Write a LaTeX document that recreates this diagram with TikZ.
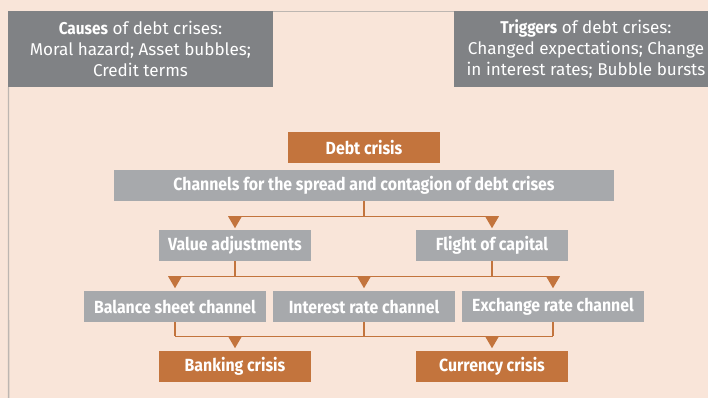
\documentclass[tikz,border=0pt]{standalone}
\usepackage{fontspec}
\setmainfont{Fira Sans}[BoldFeatures={FakeStretch=0.9}]
\definecolor{bgc}{HTML}{F9E5D9}
\definecolor{darkg}{HTML}{808285}
\definecolor{lightg}{HTML}{A7A9AC}
\definecolor{orng}{HTML}{C3743D}
\definecolor{rule}{HTML}{BDB6B1}
\tikzset{
  info/.style={fill=darkg, text=white, inner sep=0pt, minimum height=76pt, align=center,
    font=\fontsize{17.1}{21}\selectfont},
  greybox/.style={fill=lightg, text=white, inner sep=0pt, minimum height=31pt,
    font=\bfseries\fontsize{17.6}{20}\selectfont},
  orangebox/.style={greybox, fill=orng},
  conn/.style={draw=orng, line width=1.3pt},
  frameline/.style={draw=rule, line width=1.3pt},
  tri/.pic={\fill[orng] (-7,0) -- (7,0) -- (0,12) -- cycle;}
}
\begin{document}
\begin{tikzpicture}[x=1pt,y=-1pt]
\useasboundingbox (0,0) rectangle (708,398);
\clip (0,0) rectangle (708,398);
\fill[bgc] (0,0) rectangle (708,398);
% top boxes
\node[info, minimum width=265pt] (causes) at (140.5,49) {\textbf{Causes} of debt crises:\\Moral hazard; Asset bubbles;\\Credit terms};
\node[info, minimum width=264pt] (triggers) at (586,49) {\textbf{Triggers} of debt crises:\\Changed expectations; Change\\in interest rates; Bubble bursts};
\coordinate (bl) at (8.65,398);
\draw[frameline] ([yshift=-0.65pt]causes.north east) -- ([yshift=-0.65pt]triggers.north west);
\draw[frameline] ([xshift=0.65pt]causes.south west) -- (bl);
% main nodes
\node[orangebox, minimum width=152pt] (debt) at (364,147.5) {Debt crisis};
\node[greybox, minimum width=500pt] (chan) at (364,185.5) {Channels for the spread and contagion of debt crises};
\node[greybox, minimum width=152pt] (val) at (235,245.5) {Value adjustments};
\node[greybox, minimum width=152pt] (flight) at (492,245.5) {Flight of capital};
\node[greybox, minimum width=182pt] (bal) at (175,306.5) {Balance sheet channel};
\node[greybox, minimum width=182pt] (int) at (364,306.5) {Interest rate channel};
\node[greybox, minimum width=182pt] (exch) at (553,306.5) {Exchange rate channel};
\node[orangebox, minimum width=152pt] (bank) at (235,366.5) {Banking crisis};
\node[orangebox, minimum width=152pt] (curr) at (492,366.5) {Currency crisis};
% connectors level 1
\draw[conn] (chan.south) -- ++(0,15) coordinate (b1);
\draw[conn] (b1 -| val) -- (b1 -| flight);
\pic at (b1 -| val) {tri};
\pic at (b1 -| flight) {tri};
% level 2
\draw[conn] (val.south) -- ++(0,15) coordinate (b2);
\draw[conn] (flight.south) -- (flight.south |- b2);
\draw[conn] (b2 -| bal) -- (b2 -| exch);
\pic at (b2 -| bal) {tri};
\pic at (b2 -| int) {tri};
\pic at (b2 -| exch) {tri};
% level 3
\draw[conn] (bal.south) -- ++(0,14) coordinate (b3);
\draw[conn] (int.south) -- (int.south |- b3);
\draw[conn] (exch.south) -- (exch.south |- b3);
\draw[conn] (b3 -| bal) -- (b3 -| exch);
\pic at (b3 -| bank) {tri};
\pic at (b3 -| curr) {tri};
\end{tikzpicture}
\end{document}
